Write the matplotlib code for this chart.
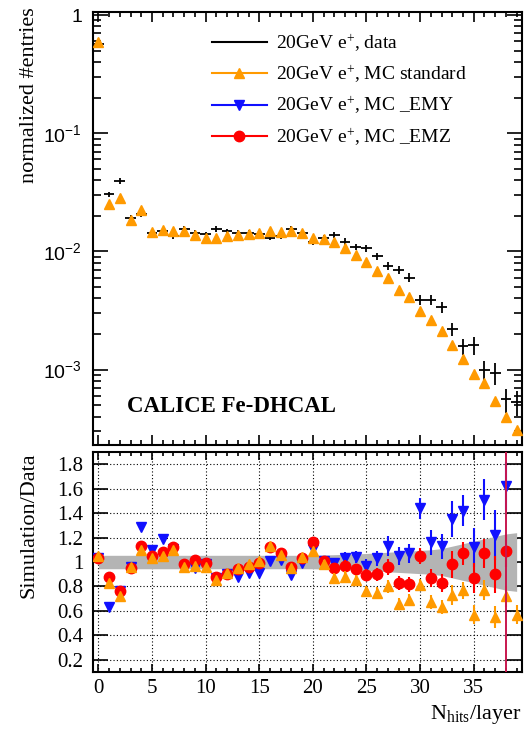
import numpy as np
import matplotlib.pyplot as plt
from matplotlib.lines import Line2D
from matplotlib.ticker import MultipleLocator, LogLocator, FuncFormatter, NullFormatter

plt.rcParams['font.family'] = 'Liberation Serif'
plt.rcParams['mathtext.fontset'] = 'custom'
plt.rcParams['mathtext.rm'] = 'Liberation Serif'
plt.rcParams['mathtext.it'] = 'Liberation Serif:italic'
plt.rcParams['mathtext.sf'] = 'Liberation Sans'

# hits per layer, one bin per integer value
nhits = np.arange(40)

data = [0.57, 0.0304, 0.0394, 0.0193, 0.0206, 0.0144, 0.0148, 0.0136, 0.0154, 0.0144,
        0.0139, 0.0155, 0.0148, 0.0144, 0.0144, 0.0141, 0.0131, 0.0135, 0.0155, 0.0143,
        0.0120, 0.0131, 0.0138, 0.0121, 0.0109, 0.0106, 0.0091, 0.0075, 0.0070, 0.0060,
        0.0039, 0.0039, 0.00337, 0.00221, 0.00157, 0.00160, 0.00100, 0.00094, 0.00056, 0.00053]
mc_std = [0.59, 0.0250, 0.0285, 0.0186, 0.0223, 0.0146, 0.0153, 0.0149, 0.0148, 0.0137,
          0.0131, 0.0131, 0.0134, 0.0138, 0.0141, 0.0143, 0.0149, 0.0146, 0.0148, 0.0143,
          0.0131, 0.0128, 0.0119, 0.0106, 0.00925, 0.0082, 0.0068, 0.0059, 0.0047, 0.0041,
          0.00316, 0.00264, 0.00214, 0.00163, 0.00122, 0.00092, 0.00077, 0.00054, 0.00040, 0.00031]
# relative uncertainty of the data (error bars on top, grey band below)
data_relerr = [0.055] * 21 + [0.058, 0.06, 0.063, 0.066, 0.07, 0.075, 0.08, 0.085, 0.09,
                              0.095, 0.10, 0.11, 0.13, 0.15, 0.17, 0.19, 0.21, 0.23, 0.24]

ratio_std = [1.05, 0.83, 0.72, 0.96, 1.10, 1.03, 1.05, 1.10, 0.96, 0.97,
             0.96, 0.85, 0.91, 0.95, 0.98, 1.01, 1.13, 1.06, 0.95, 1.04,
             1.09, 0.98, 0.87, 0.88, 0.85, 0.76, 0.75, 0.80, 0.66, 0.69,
             0.81, 0.67, 0.63, 0.73, 0.77, 0.57, 0.77, 0.55, 0.72, 0.57]
ratio_emy = [1.03, 0.63, 0.76, 0.96, 1.29, 1.10, 1.19, 1.11, 0.96, 0.95,
             0.98, 0.87, 0.90, 0.88, 0.91, 0.91, 1.01, 1.02, 0.89, 0.99,
             1.11, 1.01, 0.99, 1.03, 1.04, 0.97, 1.03, 1.13, 1.05, 1.07,
             1.44, 1.16, 1.13, 1.35, 1.42, 1.12, 1.51, 1.22, 1.62]
ratio_emz = [1.03, 0.88, 0.76, 0.95, 1.13, 1.05, 1.08, 1.12, 0.98, 1.02,
             0.99, 0.88, 0.90, 0.94, 0.96, 0.99, 1.12, 1.07, 0.96, 1.03,
             1.16, 1.01, 0.95, 0.97, 0.94, 0.89, 0.90, 0.96, 0.83, 0.82,
             1.05, 0.87, 0.83, 0.98, 1.07, 0.87, 1.07, 0.90, 1.09]
ratio_relerr = [0.02] * 21 + [0.04, 0.045, 0.05, 0.05, 0.055, 0.06, 0.07, 0.07, 0.075,
                              0.06, 0.085, 0.09, 0.11, 0.09, 0.14, 0.11, 0.17, 0.12, 0.14]

orange = '#ff9a00'
blue = '#1010ff'
red = '#ff0000'

data = np.array(data)
mc_std = np.array(mc_std)
data_relerr = np.array(data_relerr)
ratio_std = np.array(ratio_std)
ratio_emy = np.array(ratio_emy)
ratio_emz = np.array(ratio_emz)
ratio_relerr = np.array(ratio_relerr)

fig = plt.figure(figsize=(5.24, 7.38), dpi=100)
ax1 = fig.add_axes([0.1775, 0.397, 0.8187, 0.5867])
ax2 = fig.add_axes([0.1775, 0.0894, 0.8187, 0.2981])

# upper pad: distributions
ax1.errorbar(nhits, data, xerr=0.5, yerr=data * data_relerr, fmt='none',
             ecolor='black', elinewidth=1.3, capsize=0, zorder=3)
ax1.plot(nhits, mc_std, '^', color=orange, ms=7.5, mec=orange, zorder=4)
ax1.set_yscale('log')
ax1.set_xlim(-0.5, 39.5)
ax1.set_ylim(2.3e-4, 1.06)

def decade(v, pos):
    e = int(round(np.log10(v)))
    return '1' if e == 0 else r'$\mathsf{10^{%d}}$' % e

ax1.yaxis.set_major_locator(LogLocator(base=10, numticks=10))
ax1.yaxis.set_minor_locator(LogLocator(base=10, subs=np.arange(2, 10), numticks=20))
ax1.yaxis.set_major_formatter(FuncFormatter(decade))
ax1.yaxis.set_minor_formatter(NullFormatter())
ax1.xaxis.set_major_locator(MultipleLocator(5))
ax1.xaxis.set_minor_locator(MultipleLocator(1))
ax1.tick_params(which='both', direction='in', top=True, right=True, labelbottom=False, width=1.2)
ax1.tick_params(axis='y', which='major', length=11, labelsize=14, pad=8, labelfontfamily='Liberation Sans')
ax1.tick_params(axis='y', which='minor', length=5.5)
ax1.tick_params(axis='x', which='major', length=7.5)
ax1.tick_params(axis='x', which='minor', length=3.8)
ax1.set_ylabel('normalized #entries', fontsize=16, loc='top')
ax1.yaxis.set_label_coords(-0.126, 1.01)
ax1.text(0.079, 0.09, 'CALICE Fe-DHCAL', transform=ax1.transAxes, fontsize=16.5,
         fontweight='bold', va='center', ha='left')

handles = [Line2D([], [], color='black', lw=1.5),
           Line2D([], [], color=orange, lw=1.5, marker='^', ms=7.5),
           Line2D([], [], color=blue, lw=1.5, marker='v', ms=7.5),
           Line2D([], [], color=red, lw=1.5, marker='o', ms=7.5)]
labels = [r'20GeV e$^{+}$, data', r'20GeV e$^{+}$, MC standard',
          r'20GeV e$^{+}$, MC _EMY', r'20GeV e$^{+}$, MC _EMZ']
ax1.legend(handles, labels, loc='upper left', bbox_to_anchor=(0.278, 0.953), frameon=False,
           fontsize=14, borderpad=0, borderaxespad=0, handlelength=2.8, handletextpad=0.5,
           labelspacing=0.5)

# lower pad: simulation / data
ax2.fill_between(nhits, 1 - data_relerr, 1 + data_relerr, color='#b4b4b4', lw=0, zorder=1)
ax2.errorbar(nhits[:len(ratio_emy)], ratio_emy, yerr=ratio_emy * ratio_relerr[:len(ratio_emy)],
             fmt='v', color=blue, ms=7.5, elinewidth=1.5, capsize=0, zorder=3)
ax2.errorbar(nhits[:len(ratio_emz)], ratio_emz, yerr=ratio_emz * ratio_relerr[:len(ratio_emz)],
             fmt='o', color=red, ms=7.5, elinewidth=1.5, capsize=0, zorder=4)
ax2.errorbar(nhits, ratio_std, yerr=ratio_std * ratio_relerr,
             fmt='^', color=orange, ms=7.5, elinewidth=1.5, capsize=0, zorder=5)
ax2.axvline(38, color='#c8174e', lw=1.4, zorder=6)
ax2.set_xlim(-0.5, 39.5)
ax2.set_ylim(0.1, 1.9)
ax2.yaxis.set_major_locator(MultipleLocator(0.2))
ax2.xaxis.set_major_locator(MultipleLocator(5))
ax2.xaxis.set_minor_locator(MultipleLocator(1))
ax2.yaxis.set_major_formatter(FuncFormatter(lambda v, p: '%g' % round(v, 1)))
ax2.grid(True, which='major', linestyle=(0, (1, 2)), color='black', lw=0.8)
ax2.set_axisbelow(True)
ax2.tick_params(which='both', direction='in', top=True, right=True, width=1.2, labelsize=15)
ax2.tick_params(axis='y', which='major', length=11, pad=7)
ax2.tick_params(axis='x', which='major', length=6, pad=5)
ax2.tick_params(axis='x', which='minor', length=3)
ax2.set_ylabel('Simulation/Data', fontsize=16, loc='top')
ax2.yaxis.set_label_coords(-0.126, 1.0)
ax2.set_xlabel(r'N$_{\rm hits}$/layer', fontsize=16, loc='right')
ax2.xaxis.set_label_coords(1.0, -0.14)

for ax in (ax1, ax2):
    for s in ax.spines.values():
        s.set_linewidth(1.5)

fig.savefig('out.png', dpi=100)
